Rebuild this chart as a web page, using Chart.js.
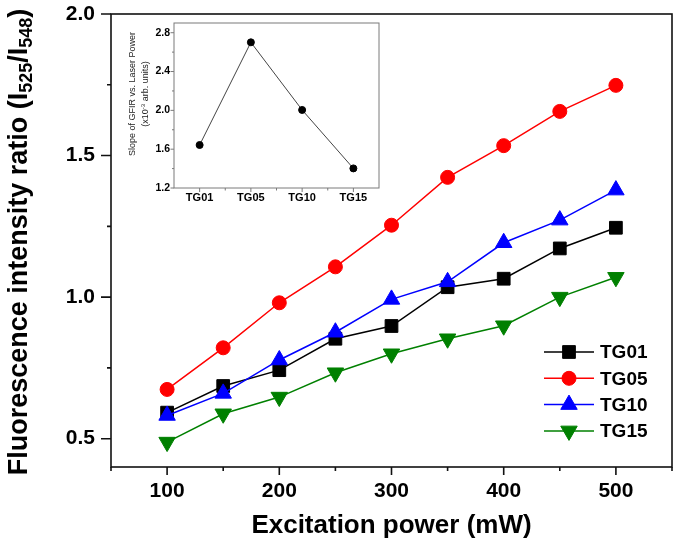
<!DOCTYPE html>
<html lang="en">
<head>
<meta charset="UTF-8">
<title>Fluorescence intensity ratio vs. excitation power</title>
<style>
  body { margin: 0; background: #fff; }
  #wrap { position: relative; width: 675px; height: 549px; }
  #mainChart { position: absolute; left: 0; top: 0; }
  #insetChart { position: absolute; left: 110px; top: 10px; }
</style>
<script src="https://cdn.jsdelivr.net/npm/chart.js"></script>
</head>
<body>
<div id="wrap">
  <canvas id="mainChart" width="675" height="549"></canvas>
  <canvas id="insetChart" width="290" height="210"></canvas>
</div>

<script>
// main plot data
const powers = [100, 150, 200, 250, 300, 350, 400, 450, 500];
const tg01 = [0.592, 0.686, 0.742, 0.853, 0.898, 1.035, 1.065, 1.172, 1.245];
const tg05 = [0.674, 0.821, 0.980, 1.107, 1.254, 1.423, 1.535, 1.656, 1.748];
const tg10 = [0.582, 0.660, 0.778, 0.876, 0.992, 1.054, 1.192, 1.272, 1.378];
const tg15 = [0.488, 0.588, 0.647, 0.733, 0.800, 0.853, 0.899, 1.000, 1.070];

const xTickValues = [100, 200, 300, 400, 500];
const xMinorTicks = [50, 150, 250, 350, 450, 550];
const yTickValues = [0.5, 1.0, 1.5, 2.0];
const yMinorTicks = [0.75, 1.25, 1.75];

// inset data
const insetLabels = ['TG01', 'TG05', 'TG10', 'TG15'];
const insetSlopes = [1.643, 2.701, 2.004, 1.402];
const insetYTicks = [1.2, 1.6, 2.0, 2.4, 2.8];
const insetYMinor = [1.4, 1.8, 2.2, 2.6];

const FONT = "'Liberation Sans', Arial, sans-serif";

function xy(ys) {
    return powers.map((p, i) => ({ x: p, y: ys[i] }));
}

function drawRich(ctx, parts, x, y, rotate) {
    ctx.save();
    ctx.translate(x, y);
    if (rotate) ctx.rotate(-Math.PI / 2);
    ctx.textBaseline = 'middle';
    ctx.textAlign = 'left';
    let total = 0;
    parts.forEach(p => { ctx.font = p.font; p.w = ctx.measureText(p.text).width; total += p.w; });
    let cx = -total / 2;
    parts.forEach(p => { ctx.font = p.font; ctx.fillText(p.text, cx, p.dy || 0); cx += p.w; });
    ctx.restore();
}

// frame box + outward tick marks
const axisMarks = {
    id: 'axisMarks',
    afterDatasetsDraw(chart, args, o) {
        const { ctx, chartArea: a, scales } = chart;
        ctx.save();
        ctx.strokeStyle = o.color;
        ctx.lineWidth = o.width;
        ctx.strokeRect(a.left, a.top, a.right - a.left, a.bottom - a.top);
        ctx.beginPath();
        const tickX = (vals, len) => vals.forEach(v => {
            const px = scales.x.getPixelForValue(v);
            ctx.moveTo(px, a.bottom); ctx.lineTo(px, a.bottom + len);
        });
        const tickY = (vals, len) => vals.forEach(v => {
            const py = scales.y.getPixelForValue(v);
            ctx.moveTo(a.left, py); ctx.lineTo(a.left - len, py);
        });
        tickX(o.x.major, o.x.majorLen);
        tickX(o.x.minor, o.x.minorLen);
        tickY(o.y.major, o.y.majorLen);
        tickY(o.y.minor, o.y.minorLen);
        ctx.stroke();
        ctx.restore();
    }
};

// titles and legend for the main plot
const mainText = {
    id: 'mainText',
    afterDraw(chart) {
        const ctx = chart.ctx;
        ctx.save();
        ctx.fillStyle = '#000';
        const big = 'bold 27px ' + FONT;
        const sub = 'bold 18px ' + FONT;
        drawRich(ctx, [
            { text: 'Fluorescence intensity ratio (I', font: big },
            { text: '525', font: sub, dy: 7 },
            { text: '/I', font: big },
            { text: '548', font: sub, dy: 7 },
            { text: ')', font: big }
        ], 20, 242, true);
        drawRich(ctx, [{ text: 'Excitation power (mW)', font: 'bold 26px ' + FONT }],
            (chart.chartArea.left + chart.chartArea.right) / 2, 526, false);

        // legend: line - marker - label
        const drawPoint = Chart.helpers && Chart.helpers.drawPoint;
        chart.data.datasets.forEach((ds, i) => {
            const y = 352 + i * 26.3;
            ctx.strokeStyle = ds.borderColor;
            ctx.fillStyle = ds.backgroundColor;
            ctx.lineWidth = 1.5;
            ctx.beginPath();
            ctx.moveTo(544, y); ctx.lineTo(594, y);
            ctx.stroke();
            if (drawPoint) {
                ctx.lineWidth = 1;
                drawPoint(ctx, { pointStyle: ds.pointStyle, radius: ds.pointRadius,
                    rotation: ds.pointRotation || 0, borderWidth: 1 }, 569, y);
            }
            ctx.fillStyle = '#000';
            ctx.font = 'bold 19px ' + FONT;
            ctx.textBaseline = 'middle';
            ctx.textAlign = 'left';
            ctx.fillText(ds.label, 600, y + 1);
        });
        ctx.restore();
    }
};

const insetText = {
    id: 'insetText',
    afterDraw(chart) {
        const ctx = chart.ctx;
        ctx.save();
        ctx.fillStyle = '#222';
        const f = '9px ' + FONT;
        const fs = '6px ' + FONT;
        drawRich(ctx, [{ text: 'Slope of GFIR vs. Laser Power', font: f }], 23, 84, true);
        drawRich(ctx, [
            { text: '(x10', font: f },
            { text: '-3', font: fs, dy: -3 },
            { text: ' arb. units)', font: f }
        ], 36, 84, true);
        ctx.restore();
    }
};

const tickFont = { family: FONT, size: 21, weight: 'bold' };

new Chart(document.getElementById('mainChart'), {
    type: 'line',
    data: {
        datasets: [
            { label: 'TG01', data: xy(tg01), borderColor: '#000000', backgroundColor: '#000000',
              pointStyle: 'rect', pointRadius: 9, order: 4 },
            { label: 'TG05', data: xy(tg05), borderColor: '#ff0000', backgroundColor: '#ff0000',
              pointStyle: 'circle', pointRadius: 7, order: 3 },
            { label: 'TG10', data: xy(tg10), borderColor: '#0000ff', backgroundColor: '#0000ff',
              pointStyle: 'triangle', pointRadius: 9.5, order: 2 },
            { label: 'TG15', data: xy(tg15), borderColor: '#008000', backgroundColor: '#008000',
              pointStyle: 'triangle', pointRotation: 180, pointRadius: 9.5, order: 1 }
        ]
    },
    options: {
        responsive: false,
        animation: false,
        layout: { autoPadding: false, padding: { top: 14, right: 3, left: 0, bottom: 0 } },
        elements: {
            line: { borderWidth: 1.5, tension: 0 },
            point: { borderWidth: 1 }
        },
        plugins: {
            legend: { display: false },
            tooltip: { enabled: false },
            axisMarks: {
                color: '#111', width: 1.6,
                x: { major: xTickValues, minor: xMinorTicks, majorLen: 8, minorLen: 4 },
                y: { major: yTickValues, minor: yMinorTicks, majorLen: 10, minorLen: 4 }
            }
        },
        scales: {
            x: {
                type: 'linear', min: 50, max: 550,
                grid: { display: false, drawTicks: false },
                border: { display: false },
                afterBuildTicks: s => { s.ticks = xTickValues.map(v => ({ value: v })); },
                afterFit: s => { s.height = 82; s.paddingLeft = 0; s.paddingRight = 0; },
                ticks: { color: '#000', font: tickFont, padding: 12, maxRotation: 0,
                         callback: v => String(v) }
            },
            y: {
                min: 0.4, max: 2.0,
                grid: { display: false, drawTicks: false },
                border: { display: false },
                afterBuildTicks: s => { s.ticks = yTickValues.map(v => ({ value: v })); },
                afterFit: s => { s.width = 111; s.paddingTop = 0; s.paddingBottom = 0; },
                ticks: { color: '#000', font: tickFont, padding: 16,
                         callback: v => Number(v).toFixed(1) }
            }
        }
    },
    plugins: [axisMarks, mainText]
});

new Chart(document.getElementById('insetChart'), {
    type: 'line',
    data: {
        labels: insetLabels,
        datasets: [{
            label: 'Slope',
            data: insetSlopes,
            borderColor: '#444',
            borderWidth: 1,
            tension: 0,
            pointStyle: 'circle',
            pointRadius: 3.5,
            pointBackgroundColor: '#000',
            pointBorderColor: '#000'
        }]
    },
    options: {
        responsive: false,
        animation: false,
        layout: { autoPadding: false, padding: { top: 13, right: 21, left: 0, bottom: 0 } },
        plugins: {
            legend: { display: false },
            tooltip: { enabled: false },
            axisMarks: {
                color: '#7a7a7a', width: 1,
                x: { major: [0, 1, 2, 3], minor: [0.5, 1.5, 2.5], majorLen: 4, minorLen: 2.5 },
                y: { major: insetYTicks, minor: insetYMinor, majorLen: 3.5, minorLen: 2 }
            }
        },
        scales: {
            x: {
                type: 'category', offset: true,
                grid: { display: false, drawTicks: false },
                border: { display: false },
                afterFit: s => { s.height = 32; },
                ticks: { color: '#000', font: { family: FONT, size: 11, weight: 'bold' },
                         padding: 3, maxRotation: 0 }
            },
            y: {
                min: 1.2, max: 2.9,
                grid: { display: false, drawTicks: false },
                border: { display: false },
                afterBuildTicks: s => { s.ticks = insetYTicks.map(v => ({ value: v })); },
                afterFit: s => { s.width = 64; },
                ticks: { color: '#000', font: { family: FONT, size: 10.5, weight: 'bold' },
                         padding: 4, callback: v => Number(v).toFixed(1) }
            }
        }
    },
    plugins: [axisMarks, insetText]
});
</script>
</body>
</html>
